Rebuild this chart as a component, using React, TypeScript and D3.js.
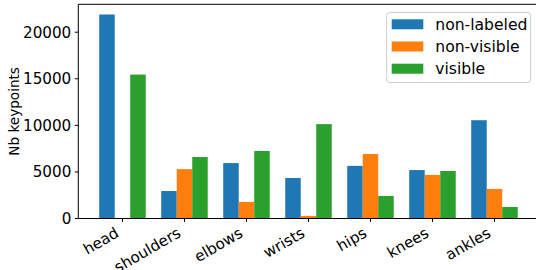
import React, { useRef, useEffect } from 'react';
import * as d3 from 'd3';

const categories = ['head', 'shoulders', 'elbows', 'wrists', 'hips', 'knees', 'ankles'];
const seriesNames = ['non-labeled', 'non-visible', 'visible'];
const nonLabeled = [21900, 2950, 5950, 4350, 5650, 5200, 10550];
const nonVisible = [60, 5300, 1780, 280, 6920, 4680, 3170];
const visible = [15450, 6600, 7250, 10130, 2420, 5100, 1240];
const yTicks = [0, 5000, 10000, 15000, 20000];
const colors = ['#1f77b4', '#ff7f0e', '#2ca02c'];

const W = 536;
const H = 270;
const FONT = '"DejaVu Sans", sans-serif';
const TICK_FS = 15.2;
const LEGEND_FS = 15.6;
const LABEL_FS = 13.6;

const App = () => {
  const svgRef = useRef<SVGSVGElement>(null);

  useEffect(() => {
    const svg = d3.select(svgRef.current);
    svg.selectAll('*').remove();

    const series = [nonLabeled, nonVisible, visible];
    const left = 78.3;
    const top = 4.3;
    const bottom = 218.5;
    const barW = 0.25;

    // matplotlib-like margins around the bars
    const lo = -1.5 * barW;
    const hi = categories.length - 1 + 1.5 * barW;
    const pad = (hi - lo) * 0.05;
    const x = d3.scaleLinear().domain([lo - pad, hi + pad]).range([left, left + 62 * (hi - lo + 2 * pad)]);
    const ymax = d3.max(series.flat())! * 1.05;
    const y = d3.scaleLinear().domain([0, ymax]).range([bottom, top]);

    const g = svg.append('g')
      .style('font-family', FONT)
      .style('font-size', `${TICK_FS}px`);

    series.forEach((vals, si) => {
      g.selectAll(null)
        .data(vals)
        .enter()
        .append('rect')
        .attr('x', (d, i) => x(i + (si - 1) * barW - barW / 2))
        .attr('width', x(barW) - x(0))
        .attr('y', d => y(d))
        .attr('height', d => y(0) - y(d))
        .attr('fill', colors[si]);
    });

    // spines
    const x1 = x.range()[1];
    g.append('path')
      .attr('d', `M${left},${bottom}V${top}H${x1}V${bottom}Z`)
      .attr('fill', 'none')
      .attr('stroke', '#000')
      .attr('stroke-width', 1);

    // y axis ticks
    yTicks.forEach(t => {
      g.append('line')
        .attr('x1', left - 3.5).attr('x2', left)
        .attr('y1', y(t)).attr('y2', y(t))
        .attr('stroke', '#000').attr('stroke-width', 1);
      g.append('text')
        .attr('x', left - 7)
        .attr('y', y(t))
        .attr('dy', '0.36em')
        .attr('text-anchor', 'end')
        .attr('fill', '#000')
        .text(t);
    });

    // x axis ticks, rotated labels
    categories.forEach((c, i) => {
      const cx = x(i);
      g.append('line')
        .attr('x1', cx).attr('x2', cx)
        .attr('y1', bottom).attr('y2', bottom + 3.5)
        .attr('stroke', '#000').attr('stroke-width', 1);
      const ax = cx - 2.5;
      const ay = bottom + 17.5;
      g.append('text')
        .attr('transform', `translate(${ax},${ay}) rotate(-30)`)
        .attr('text-anchor', 'end')
        .attr('fill', '#000')
        .text(c);
    });

    // y label
    g.append('text')
      .attr('transform', `translate(14,${(top + bottom) / 2}) rotate(-90)`)
      .attr('text-anchor', 'middle')
      .attr('dy', '0.36em')
      .style('font-size', `${LABEL_FS}px`)
      .attr('fill', '#000')
      .text('Nb keypoints');

    // legend
    const lg = g.append('g').style('font-size', `${LEGEND_FS}px`);
    lg.append('rect')
      .attr('x', 386.7).attr('y', 12.5)
      .attr('width', 144).attr('height', 70)
      .attr('rx', 3)
      .attr('fill', '#fff')
      .attr('fill-opacity', 0.8)
      .attr('stroke', '#cccccc')
      .attr('stroke-width', 1);
    seriesNames.forEach((name, i) => {
      const cy = 24.3 + i * 22.2;
      lg.append('rect')
        .attr('x', 391.7).attr('y', cy - 5)
        .attr('width', 31.6).attr('height', 10)
        .attr('fill', colors[i]);
      lg.append('text')
        .attr('x', 435.3).attr('y', cy)
        .attr('dy', '0.36em')
        .attr('fill', '#000')
        .text(name);
    });
  }, []);

  return (
    <div style={{ position: 'fixed', left: 0, top: 0, width: W, height: H, background: '#fff' }}>
      <svg ref={svgRef} width={W} height={H}></svg>
    </div>
  );
};

export default App;
